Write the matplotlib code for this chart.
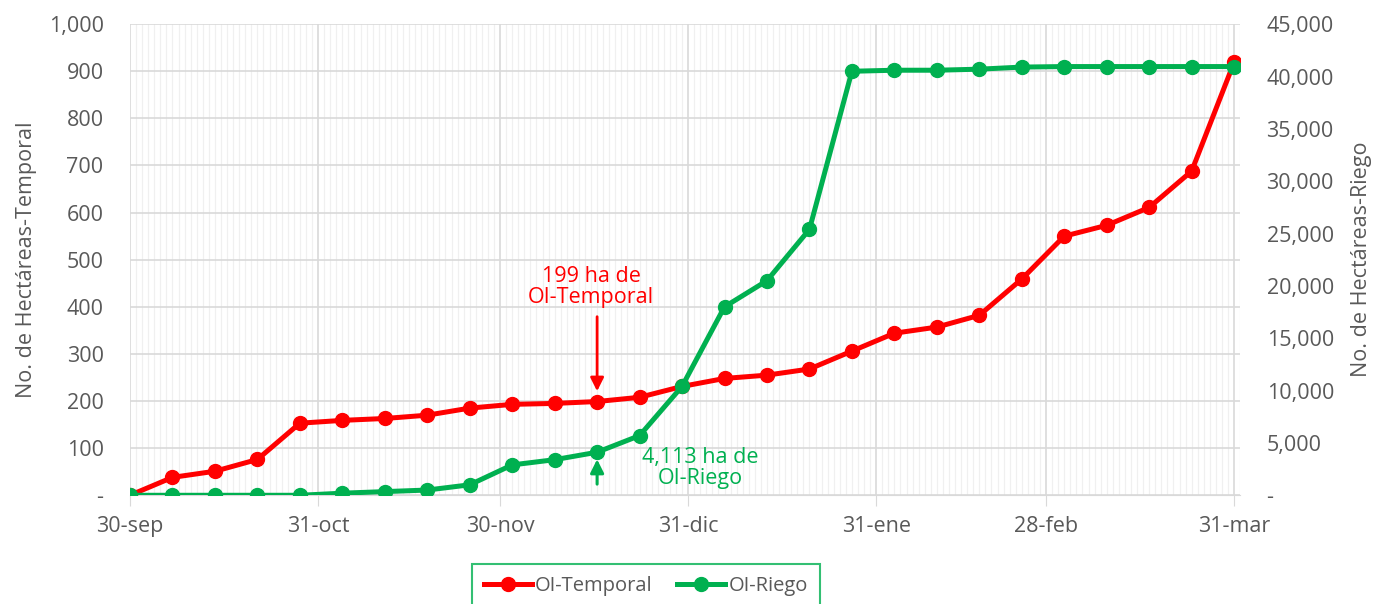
import pandas as pd
import matplotlib.pyplot as plt
import matplotlib.dates as mdates
from matplotlib.ticker import FuncFormatter

plt.rcParams['font.family'] = ['Open Sans', 'DejaVu Sans']

# datos semanales
fechas = ['2022-09-30', '2022-10-07', '2022-10-14', '2022-10-21', '2022-10-28',
          '2022-11-04', '2022-11-11', '2022-11-18', '2022-11-25', '2022-12-02',
          '2022-12-09', '2022-12-16', '2022-12-23', '2022-12-30', '2023-01-06',
          '2023-01-13', '2023-01-20', '2023-01-27', '2023-02-03', '2023-02-10',
          '2023-02-17', '2023-02-24', '2023-03-03', '2023-03-10', '2023-03-17',
          '2023-03-24', '2023-03-31']
temporal = [0, 38, 51, 76, 153, 159, 163, 170, 185, 193, 195, 199, 208, 231,
            248, 255, 268, 306, 344, 357, 382, 459, 550, 573, 611, 688, 919]
riego = [0, 0, 0, 0, 0, 200, 350, 500, 1000, 2900, 3400, 4113, 5700, 10400,
         18000, 20500, 25400, 40500, 40600, 40600, 40700, 40900, 40950, 40950,
         40950, 40950, 40950]
ticks = ['2022-09-30', '2022-10-31', '2022-11-30', '2022-12-31', '2023-01-31',
         '2023-02-28', '2023-03-31']
tick_labels = ['30-sep', '31-oct', '30-nov', '31-dic', '31-ene', '28-feb', '31-mar']

x = pd.to_datetime(fechas)
rojo = '#FF0000'
verde = '#00B050'
gris = '#595959'
fs = 15.5

fig = plt.figure(figsize=(13.74, 6.04), dpi=100)
ax1 = fig.add_axes([0.0946, 0.180, 0.808, 0.780])
ax2 = ax1.twinx()

l1, = ax1.plot(x, temporal, color=rojo, lw=3.6, marker='o', ms=10, label='OI-Temporal', zorder=3)
l2, = ax2.plot(x, riego, color=verde, lw=3.6, marker='o', ms=10, label='OI-Riego', zorder=3)

ax1.set_ylim(0, 1000)
ax2.set_ylim(0, 45000)
ax1.set_yticks(range(0, 1001, 100))
ax2.set_yticks(range(0, 45001, 5000))
fmt = FuncFormatter(lambda v, p: '-' if v == 0 else f'{v:,.0f}')
ax1.yaxis.set_major_formatter(fmt)
ax2.yaxis.set_major_formatter(fmt)

ax1.set_xlim(pd.Timestamp('2022-09-30'), pd.Timestamp('2023-04-01'))
ax1.set_xticks(pd.to_datetime(ticks))
ax1.set_xticklabels(tick_labels)
ax1.xaxis.set_minor_locator(mdates.DayLocator())

ax1.grid(axis='y', color='#D9D9D9', lw=1.2)
ax1.grid(axis='x', which='major', color='#D9D9D9', lw=1.2)
ax1.grid(axis='x', which='minor', color='#F0F0F0', lw=0.9)
ax1.set_axisbelow(True)

for ax in (ax1, ax2):
    for s in ax.spines.values():
        s.set_visible(False)
    ax.tick_params(axis='y', length=0, labelsize=fs, labelcolor=gris, pad=19)
ax1.tick_params(axis='x', which='major', length=8, color='#D9D9D9', labelsize=fs,
                labelcolor=gris, pad=7)
ax1.tick_params(axis='x', which='minor', length=0)
ax1.spines['bottom'].set_visible(True)
ax1.spines['bottom'].set_color('#D9D9D9')

ax1.set_ylabel('No. de Hectáreas-Temporal', fontsize=fs, color=gris, labelpad=8)
ax2.set_ylabel('No. de Hectáreas-Riego', fontsize=fs, color=gris, labelpad=12)

# anotaciones
d = pd.Timestamp('2022-12-16')
ax1.annotate('', xy=(d, 215), xytext=(d, 385),
             arrowprops=dict(arrowstyle='-|>', color=rojo, lw=2, mutation_scale=20))
ax1.text(pd.Timestamp('2022-12-15'), 442, '199 ha de\nOI-Temporal', color=rojo,
         fontsize=fs, ha='center', va='center', linespacing=1.05)
ax2.annotate('', xy=(d, 3700), xytext=(d, 800),
             arrowprops=dict(arrowstyle='-|>', color=verde, lw=2.2, mutation_scale=20))
ax2.text(pd.Timestamp('2023-01-02'), 2600, '4,113 ha de\nOI-Riego', color=verde,
         fontsize=fs, ha='center', va='center', linespacing=1.05)

leg = fig.legend(handles=[l1, l2], loc='upper center', bbox_to_anchor=(0.470, 0.083),
                 ncol=2, fontsize=14.5, frameon=True, fancybox=False,
                 borderpad=0.6, columnspacing=1.2, handlelength=2.4, handletextpad=0.15)
leg.get_frame().set_edgecolor(verde)
leg.get_frame().set_linewidth(1.5)
for t in leg.get_texts():
    t.set_color(gris)

fig.savefig('out.png', dpi=100)
